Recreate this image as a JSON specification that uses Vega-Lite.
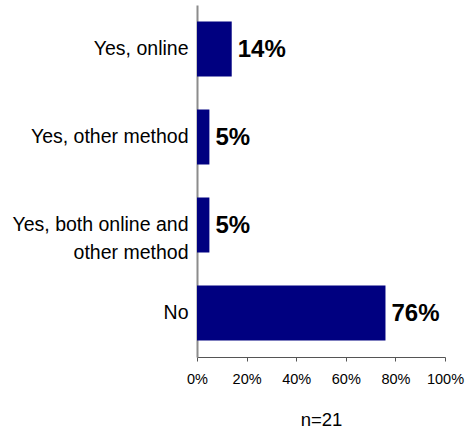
{
  "$schema": "https://vega.github.io/schema/vega-lite/v6.json",
  "width": 248,
  "height": 352,
  "autosize": {"type": "none"},
  "padding": {"left": 197, "top": 5, "right": 21, "bottom": 79},
  "background": "white",
  "config": {"view": {"stroke": null}, "font": "Liberation Sans"},
  "data": {
    "values": [
      {"answer": "Yes, online", "pct": 14, "label": "14%"},
      {"answer": "Yes, other method", "pct": 5, "label": "5%"},
      {"answer": "Yes, both online and other method", "pct": 5, "label": "5%"},
      {"answer": "No", "pct": 76, "label": "76%"}
    ]
  },
  "encoding": {
    "y": {
      "field": "answer",
      "type": "nominal",
      "sort": null,
      "scale": {"paddingInner": 0.375, "paddingOuter": 0.1875},
      "axis": {
        "title": null,
        "ticks": false,
        "domainColor": "#8c8c8c",
        "domainWidth": 2,
        "labelFont": "Liberation Sans",
        "labelFontSize": 19.5,
        "labelColor": "#000000",
        "labelPadding": 9,
        "labelLimit": 300,
        "labelLineHeight": 28,
        "labelExpr": "datum.value == 'Yes, both online and other method' ? ['Yes, both online and', 'other method'] : datum.value"
      }
    },
    "x": {
      "field": "pct",
      "type": "quantitative",
      "scale": {"domain": [0, 100], "nice": false},
      "axis": {
        "values": [0, 20, 40, 60, 80, 100],
        "labelExpr": "datum.value + '%'",
        "grid": false,
        "title": "n=21",
        "titleFont": "Liberation Sans",
        "titleFontSize": 18.5,
        "titleFontWeight": "normal",
        "titleColor": "#000000",
        "titlePadding": 25,
        "domainColor": "#555555",
        "domainWidth": 1.2,
        "tickColor": "#555555",
        "tickSize": 4,
        "labelFont": "Liberation Sans",
        "labelFontSize": 14.5,
        "labelColor": "#000000",
        "labelPadding": 11,
        "labelFlush": false,
        "labelOverlap": false
      }
    }
  },
  "layer": [
    {"mark": {"type": "bar", "color": "#000080"}},
    {
      "mark": {
        "type": "text",
        "align": "left",
        "baseline": "middle",
        "dx": 6,
        "dy": 1,
        "fontSize": 24,
        "fontWeight": "bold",
        "font": "Liberation Sans",
        "color": "#000000"
      },
      "encoding": {"text": {"field": "label", "type": "nominal"}}
    }
  ]
}
